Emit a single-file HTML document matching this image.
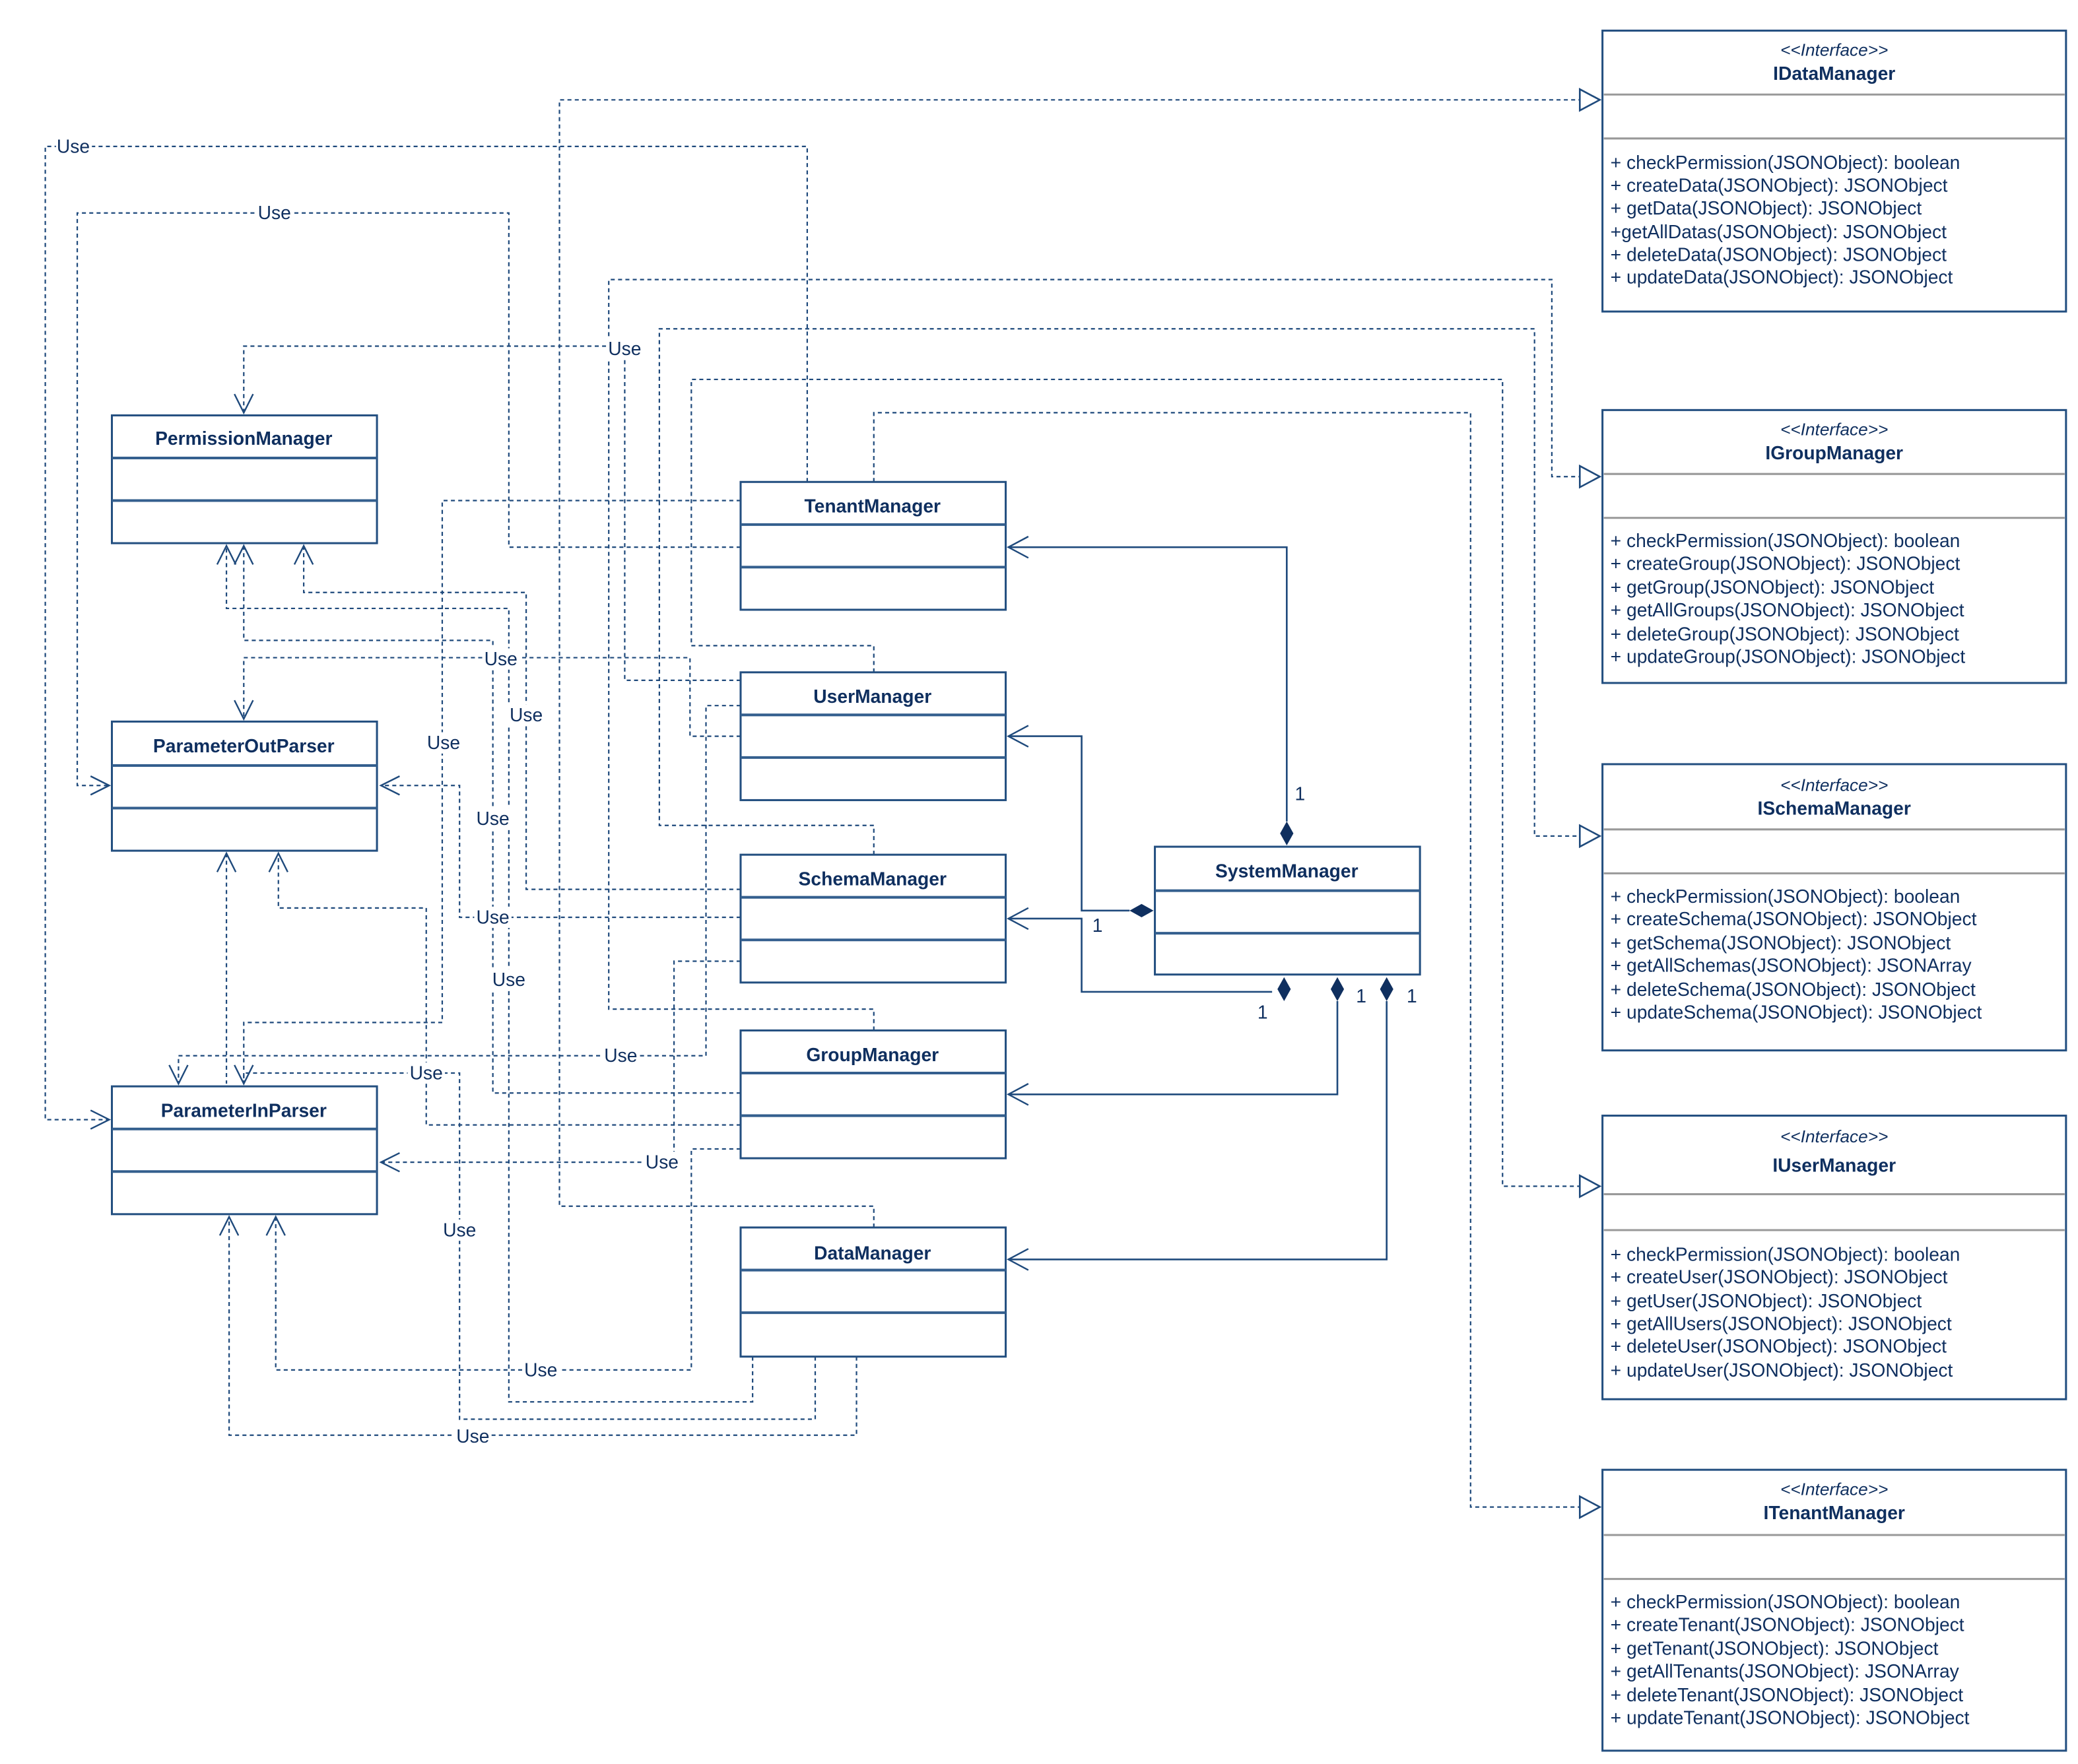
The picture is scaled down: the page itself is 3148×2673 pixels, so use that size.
<!DOCTYPE html>
<html><head><meta charset="utf-8"><style>
html,body{margin:0;padding:0;background:#fff;}
svg{display:block;}
text{font-family:"Liberation Sans",Arial,sans-serif;fill:#0f2f5f;}
.cn{font-weight:bold;font-size:14px;text-anchor:middle;}
.st{font-style:italic;font-size:13px;text-anchor:middle;}
.m{font-size:14px;}
.u{font-size:14px;text-anchor:middle;}
.d{fill:none;stroke:#1f4a7c;stroke-width:1.1;stroke-dasharray:3,2.5;}
.s{fill:none;stroke:#1f4a7c;stroke-width:1.3;}
.a{fill:none;stroke:#1f4a7c;stroke-width:1.2;}
.bx{fill:#fff;stroke:#234f80;stroke-width:1.5;}
.dv{stroke:#345f8e;stroke-width:2;}
.gd{stroke:#999;stroke-width:1.5;}
</style></head><body>
<svg width="3148" height="2673" viewBox="0 0 1560 1325" preserveAspectRatio="none" xmlns="http://www.w3.org/2000/svg">
<rect width="1560" height="1325" fill="#fff"/>
<!-- dashed dependency / realization lines -->
<g>
<path class="d" d="M656,922 V906 H420 V75 H1186"/>
<path class="d" d="M606,362 V110 H34 V841 H82"/>
<path class="d" d="M556,411 H382 V160 H58 V590 H82"/>
<path class="d" d="M656,774 V758 H457 V210 H1165 V358 H1186"/>
<path class="d" d="M656,642 V620 H495 V247 H1152 V628 H1186"/>
<path class="d" d="M656,505 V485 H519 V285 H1128 V891 H1186"/>
<path class="d" d="M656,362 V310 H1104 V1132 H1186"/>
<path class="d" d="M556,511 H469 V260 H183 V310"/>
<path class="d" d="M556,376 H332 V768 H183 V814"/>
<path class="d" d="M556,553 H518 V494 H183 V540"/>
<path class="d" d="M556,668 H395 V445 H228 V410"/>
<path class="d" d="M565,1019 V1053 H382 V457 H170 V410"/>
<path class="d" d="M556,821 H370 V481 H183 V410"/>
<path class="d" d="M556,689 H345 V590 H286"/>
<path class="d" d="M556,845 H320 V682 H209 V641"/>
<path class="d" d="M170,641 V814"/>
<path class="d" d="M556,530 H530 V793 H134 V814"/>
<path class="d" d="M556,722 H506 V873 H286"/>
<path class="d" d="M556,863 H519 V1029 H207 V914"/>
<path class="d" d="M643,1019 V1078 H172 V914"/>
<path class="d" d="M612,1019 V1066 H345 V806 H183 V814"/>
</g>
<!-- open arrowheads -->
<g>
<polyline class="a" points="176,296 183,310 190,296"/>
<polyline class="a" points="176,526 183,540 190,526"/>
<polyline class="a" points="176,800 183,814 190,800"/>
<polyline class="a" points="127,800 134,814 141,800"/>
<polyline class="a" points="163,424 170,410 177,424"/>
<polyline class="a" points="176,424 183,410 190,424"/>
<polyline class="a" points="221,424 228,410 235,424"/>
<polyline class="a" points="163,655 170,641 177,655"/>
<polyline class="a" points="202,655 209,641 216,655"/>
<polyline class="a" points="200,928 207,914 214,928"/>
<polyline class="a" points="165,928 172,914 179,928"/>
<polyline class="a" points="68,834 82,841 68,848"/>
<polyline class="a" points="68,583 82,590 68,597"/>
<polyline class="a" points="300,583 286,590 300,597"/>
<polyline class="a" points="300,866 286,873 300,880"/>
</g>
<!-- realization triangles -->
<g fill="#fff" stroke="#1f4a7c" stroke-width="1.3">
<polygon points="1186,67 1201,75 1186,83"/>
<polygon points="1186,350 1201,358 1186,366"/>
<polygon points="1186,620 1201,628 1186,636"/>
<polygon points="1186,883 1201,891 1186,899"/>
<polygon points="1186,1124 1201,1132 1186,1140"/>
</g>
<!-- Use labels -->
<g>
<g fill="#fff">
<rect x="42" y="102" width="27" height="16"/><rect x="192" y="152" width="28" height="16"/>
<rect x="455" y="254" width="28" height="16"/><rect x="362" y="487" width="28" height="16"/>
<rect x="319" y="550" width="28" height="16"/><rect x="381" y="529" width="28" height="16"/>
<rect x="356" y="607" width="28" height="16"/><rect x="356" y="681" width="28" height="16"/>
<rect x="368" y="728" width="28" height="16"/><rect x="452" y="785" width="28" height="16"/>
<rect x="306" y="798" width="28" height="16"/><rect x="483" y="865" width="28" height="16"/>
<rect x="331" y="916" width="28" height="16"/><rect x="392" y="1021" width="28" height="16"/>
<rect x="341" y="1071" width="28" height="16"/>
</g>
<g class="u" dominant-baseline="middle">
<text x="55" y="111" class="u">Use</text><text x="206" y="161" class="u">Use</text>
<text x="469" y="263" class="u">Use</text><text x="376" y="496" class="u">Use</text>
<text x="333" y="559" class="u">Use</text><text x="395" y="538" class="u">Use</text>
<text x="370" y="616" class="u">Use</text><text x="370" y="690" class="u">Use</text>
<text x="382" y="737" class="u">Use</text><text x="466" y="794" class="u">Use</text>
<text x="320" y="807" class="u">Use</text><text x="497" y="874" class="u">Use</text>
<text x="345" y="925" class="u">Use</text><text x="406" y="1030" class="u">Use</text>
<text x="355" y="1080" class="u">Use</text>
</g>
</g>
<!-- composition lines -->
<g>
<path class="s" d="M966,617 V411 H757"/>
<path class="s" d="M848,684 H812 V553 H757"/>
<path class="s" d="M757,690 H812 V745 H955"/>
<path class="s" d="M1004,752 V822 H757"/>
<path class="s" d="M1041,752 V946 H757"/>
<polyline class="a" points="772,403 757,411 772,419"/>
<polyline class="a" points="772,545 757,553 772,561"/>
<polyline class="a" points="772,682 757,690 772,698"/>
<polyline class="a" points="772,814 757,822 772,830"/>
<polyline class="a" points="772,938 757,946 772,954"/>
<g fill="#0f2f5f">
<polygon points="966,617 971,626 966,635 961,626"/>
<polygon points="848,684 857,679 866,684 857,689"/>
<polygon points="964,734 969,743 964,752 959,743"/>
<polygon points="1004,734 1009,743 1004,752 999,743"/>
<polygon points="1041,734 1046,743 1041,752 1036,743"/>
</g>
<text x="972" y="601" class="m">1</text>
<text x="820" y="700" class="m">1</text>
<text x="944" y="765" class="m">1</text>
<text x="1018" y="753" class="m">1</text>
<text x="1056" y="753" class="m">1</text>
</g>
<!-- class boxes -->
<g>
<rect class="bx" x="84" y="312" width="199" height="96"/><line class="dv" x1="84" y1="344" x2="283" y2="344"/><line class="dv" x1="84" y1="376" x2="283" y2="376"/><text class="cn" x="183" y="334">PermissionManager</text>
<rect class="bx" x="84" y="542" width="199" height="97"/><line class="dv" x1="84" y1="575" x2="283" y2="575"/><line class="dv" x1="84" y1="607" x2="283" y2="607"/><text class="cn" x="183" y="565">ParameterOutParser</text>
<rect class="bx" x="84" y="816" width="199" height="96"/><line class="dv" x1="84" y1="848" x2="283" y2="848"/><line class="dv" x1="84" y1="880" x2="283" y2="880"/><text class="cn" x="183" y="839">ParameterInParser</text>
<rect class="bx" x="556" y="362" width="199" height="96"/><line class="dv" x1="556" y1="394" x2="755" y2="394"/><line class="dv" x1="556" y1="426" x2="755" y2="426"/><text class="cn" x="655" y="385">TenantManager</text>
<rect class="bx" x="556" y="505" width="199" height="96"/><line class="dv" x1="556" y1="537" x2="755" y2="537"/><line class="dv" x1="556" y1="569" x2="755" y2="569"/><text class="cn" x="655" y="528">UserManager</text>
<rect class="bx" x="556" y="642" width="199" height="96"/><line class="dv" x1="556" y1="674" x2="755" y2="674"/><line class="dv" x1="556" y1="706" x2="755" y2="706"/><text class="cn" x="655" y="665">SchemaManager</text>
<rect class="bx" x="556" y="774" width="199" height="96"/><line class="dv" x1="556" y1="806" x2="755" y2="806"/><line class="dv" x1="556" y1="838" x2="755" y2="838"/><text class="cn" x="655" y="797">GroupManager</text>
<rect class="bx" x="556" y="922" width="199" height="97"/><line class="dv" x1="556" y1="954" x2="755" y2="954"/><line class="dv" x1="556" y1="986" x2="755" y2="986"/><text class="cn" x="655" y="946">DataManager</text>
<rect class="bx" x="867" y="636" width="199" height="96"/><line class="dv" x1="867" y1="669" x2="1066" y2="669"/><line class="dv" x1="867" y1="701" x2="1066" y2="701"/><text class="cn" x="966" y="659">SystemManager</text>
</g>
<!-- interfaces -->
<g>
<rect class="bx" x="1203" y="23" width="348" height="211"/><line class="gd" x1="1204" y1="71" x2="1550" y2="71"/><line class="gd" x1="1204" y1="104" x2="1550" y2="104"/>
<text class="st" x="1377" y="42">&lt;&lt;Interface&gt;&gt;</text><text class="cn" x="1377" y="60">IDataManager</text>
<text class="m" x="1209" y="127">+ checkPermission(JSONObject): boolean</text>
<text class="m" x="1209" y="144">+ createData(JSONObject): JSONObject</text>
<text class="m" x="1209" y="161">+ getData(JSONObject): JSONObject</text>
<text class="m" x="1209" y="179">+getAllDatas(JSONObject): JSONObject</text>
<text class="m" x="1209" y="196">+ deleteData(JSONObject): JSONObject</text>
<text class="m" x="1209" y="213">+ updateData(JSONObject): JSONObject</text>

<rect class="bx" x="1203" y="308" width="348" height="205"/><line class="gd" x1="1204" y1="356" x2="1550" y2="356"/><line class="gd" x1="1204" y1="389" x2="1550" y2="389"/>
<text class="st" x="1377" y="327">&lt;&lt;Interface&gt;&gt;</text><text class="cn" x="1377" y="345">IGroupManager</text>
<text class="m" x="1209" y="411">+ checkPermission(JSONObject): boolean</text>
<text class="m" x="1209" y="428">+ createGroup(JSONObject): JSONObject</text>
<text class="m" x="1209" y="446">+ getGroup(JSONObject): JSONObject</text>
<text class="m" x="1209" y="463">+ getAllGroups(JSONObject): JSONObject</text>
<text class="m" x="1209" y="481">+ deleteGroup(JSONObject): JSONObject</text>
<text class="m" x="1209" y="498">+ updateGroup(JSONObject): JSONObject</text>

<rect class="bx" x="1203" y="574" width="348" height="215"/><line class="gd" x1="1204" y1="623" x2="1550" y2="623"/><line class="gd" x1="1204" y1="656" x2="1550" y2="656"/>
<text class="st" x="1377" y="594">&lt;&lt;Interface&gt;&gt;</text><text class="cn" x="1377" y="612">ISchemaManager</text>
<text class="m" x="1209" y="678">+ checkPermission(JSONObject): boolean</text>
<text class="m" x="1209" y="695">+ createSchema(JSONObject): JSONObject</text>
<text class="m" x="1209" y="713">+ getSchema(JSONObject): JSONObject</text>
<text class="m" x="1209" y="730">+ getAllSchemas(JSONObject): JSONArray</text>
<text class="m" x="1209" y="748">+ deleteSchema(JSONObject): JSONObject</text>
<text class="m" x="1209" y="765">+ updateSchema(JSONObject): JSONObject</text>

<rect class="bx" x="1203" y="838" width="348" height="213"/><line class="gd" x1="1204" y1="897" x2="1550" y2="897"/><line class="gd" x1="1204" y1="924" x2="1550" y2="924"/>
<text class="st" x="1377" y="858">&lt;&lt;Interface&gt;&gt;</text><text class="cn" x="1377" y="880">IUserManager</text>
<text class="m" x="1209" y="947">+ checkPermission(JSONObject): boolean</text>
<text class="m" x="1209" y="964">+ createUser(JSONObject): JSONObject</text>
<text class="m" x="1209" y="982">+ getUser(JSONObject): JSONObject</text>
<text class="m" x="1209" y="999">+ getAllUsers(JSONObject): JSONObject</text>
<text class="m" x="1209" y="1016">+ deleteUser(JSONObject): JSONObject</text>
<text class="m" x="1209" y="1034">+ updateUser(JSONObject): JSONObject</text>

<rect class="bx" x="1203" y="1104" width="348" height="211"/><line class="gd" x1="1204" y1="1153" x2="1550" y2="1153"/><line class="gd" x1="1204" y1="1186" x2="1550" y2="1186"/>
<text class="st" x="1377" y="1123">&lt;&lt;Interface&gt;&gt;</text><text class="cn" x="1377" y="1141">ITenantManager</text>
<text class="m" x="1209" y="1208">+ checkPermission(JSONObject): boolean</text>
<text class="m" x="1209" y="1225">+ createTenant(JSONObject): JSONObject</text>
<text class="m" x="1209" y="1243">+ getTenant(JSONObject): JSONObject</text>
<text class="m" x="1209" y="1260">+ getAllTenants(JSONObject): JSONArray</text>
<text class="m" x="1209" y="1278">+ deleteTenant(JSONObject): JSONObject</text>
<text class="m" x="1209" y="1295">+ updateTenant(JSONObject): JSONObject</text>
</g>
</svg>
</body></html>
